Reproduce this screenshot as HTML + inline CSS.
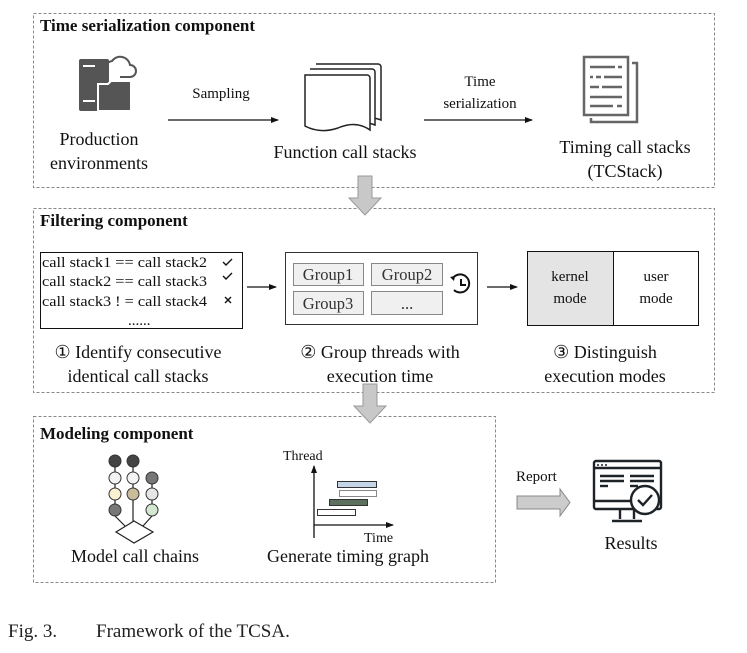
<!DOCTYPE html>
<html><head><meta charset="utf-8"><style>
html,body{margin:0;padding:0;background:#fff;}
svg{display:block;font-family:"Liberation Serif",serif;}
</style></head><body>
<svg width="747" height="653" viewBox="0 0 747 653" xmlns="http://www.w3.org/2000/svg">
<defs>
<marker id="ah" markerWidth="8" markerHeight="8" refX="7" refY="4" orient="auto" markerUnits="userSpaceOnUse"><path d="M0,1 L8,4 L0,7 Z" fill="#111"/></marker>
</defs>
<g fill="none" stroke="#888" stroke-dasharray="3,2" stroke-width="1">
<rect x="33.5" y="13.5" width="681" height="174"/>
<rect x="33.5" y="208.5" width="681" height="184"/>
<rect x="33.5" y="416.5" width="462" height="166"/>
</g>
<path d="M358,176 h14 v22 h9 l-16,17 l-16,-17 h9 z" fill="#c8c8c8" stroke="#999"/>
<path d="M363,384 h14 v22 h9 l-16,17 l-16,-17 h9 z" fill="#c8c8c8" stroke="#999"/>
<g font-weight="bold" font-size="17" fill="#111">
<text x="40" y="31">Time serialization component</text>
<text x="40" y="226">Filtering component</text>
<text x="40" y="439">Modeling component</text>
</g>
<g fill="#555">
<rect x="79" y="59" width="30" height="52" rx="2"/>
<path d="M98,84 h10 l3,-3 h20 v30 h-33 z" fill="#555" stroke="#fff" stroke-width="2"/>
<path d="M108,75 a8,8 0 0 1 4,-14 a10,10 0 0 1 18,4 a6,6 0 0 1 0,12 h-10" fill="none" stroke="#555" stroke-width="2"/>
<rect x="83" y="65" width="12" height="2" fill="#fff"/>
<rect x="83" y="100" width="12" height="2" fill="#fff"/>
</g>
<g font-size="18" fill="#111" text-anchor="middle">
<text x="99" y="145">Production</text>
<text x="99" y="169">environments</text>
<text x="345" y="158">Function call stacks</text>
<text x="625" y="153">Timing call stacks</text>
<text x="625" y="177">(TCStack)</text>
</g>
<g font-size="15" fill="#111" text-anchor="middle">
<text x="221" y="98">Sampling</text>
<text x="480" y="86">Time</text>
<text x="480" y="108">serialization</text>
</g>
<line x1="168" y1="120" x2="278" y2="120" stroke="#111" stroke-width="1.3" marker-end="url(#ah)"/>
<line x1="424" y1="120" x2="532" y2="120" stroke="#111" stroke-width="1.3" marker-end="url(#ah)"/>
<g fill="#fff" stroke="#222" stroke-width="1.5">
<path d="M316,64 h62 a3,3 0 0 1 3,3 v53 q-10,-4 -20,0"/>
<path d="M310,69 h62 a3,3 0 0 1 3,3 v53 q-10,-4 -20,0"/>
<path d="M305,75 h62 a3,3 0 0 1 3,3 v52 q-14,-10 -32,-2 q-18,6 -33,-2 z"/>
</g>
<!-- doc icon -->
<g stroke="#666" stroke-width="2.5" fill="none">
<path d="M632,63 h5 v59 h-46 v-4"/>
<rect x="584" y="57" width="44" height="58" fill="#fff"/>
</g>
<g stroke="#666" stroke-width="2.5">
<line x1="590" y1="67" x2="615" y2="67"/><line x1="618" y1="67" x2="622" y2="67"/>
<line x1="590" y1="77" x2="593" y2="77"/><line x1="596" y1="77" x2="601" y2="77"/><line x1="604" y1="77" x2="622" y2="77"/>
<line x1="590" y1="87" x2="599" y2="87"/><line x1="602" y1="87" x2="622" y2="87"/>
<line x1="590" y1="97" x2="622" y2="97"/>
<line x1="590" y1="106" x2="613" y2="106"/><line x1="617" y1="106" x2="622" y2="106"/>
</g>
<!-- Box2 -->
<rect x="40.5" y="252.5" width="202" height="76" fill="#fff" stroke="#111"/>
<g font-size="15" fill="#111">
<text x="42" y="267" textLength="165" lengthAdjust="spacingAndGlyphs">call stack1 == call stack2</text>
<text x="42" y="286" textLength="165" lengthAdjust="spacingAndGlyphs">call stack2 == call stack3</text>
<text x="42" y="306" textLength="165" lengthAdjust="spacingAndGlyphs">call stack3 ! = call stack4</text>
<text x="128" y="325">......</text>
</g>
<g stroke="#111" stroke-width="1.4" fill="none">
<path d="M223,262 l3,3 l6,-6"/><path d="M223,276 l3,3 l6,-6"/>
<path d="M225,297 l6,6 M231,297 l-6,6"/>
</g>
<line x1="247" y1="287" x2="276" y2="287" stroke="#111" stroke-width="1.3" marker-end="url(#ah)"/>
<rect x="285.5" y="252.5" width="192" height="72" fill="#fff" stroke="#333"/>
<g fill="#f0f0f0" stroke="#888">
<rect x="293.5" y="263.5" width="70" height="22"/>
<rect x="371.5" y="263.5" width="71" height="22"/>
<rect x="293.5" y="291.5" width="70" height="23"/>
<rect x="371.5" y="291.5" width="71" height="23"/>
</g>
<g font-size="16.5" fill="#333" text-anchor="middle">
<text x="328" y="280">Group1</text><text x="407" y="280">Group2</text>
<text x="328" y="309">Group3</text><text x="407" y="309">...</text>
</g>
<g stroke="#111" stroke-width="2" fill="none">
<path d="M453,278 a9,9 0 1 1 1,12"/>
<path d="M461,279 v6 h5"/>
</g>
<path d="M450,277 l5,-1 l-1,5 z" fill="#111"/>
<line x1="487" y1="287" x2="517" y2="287" stroke="#111" stroke-width="1.3" marker-end="url(#ah)"/>
<rect x="527.5" y="251.5" width="86" height="74" fill="#e4e4e4" stroke="#111"/>
<rect x="613.5" y="251.5" width="85" height="74" fill="#fff" stroke="#111"/>
<g font-size="15" fill="#111" text-anchor="middle">
<text x="570" y="281">kernel</text><text x="570" y="303">mode</text>
<text x="656" y="281">user</text><text x="656" y="303">mode</text>
</g>
<g font-size="18" fill="#111" text-anchor="middle">
<text x="138" y="358">① Identify consecutive</text>
<text x="138" y="382">identical call stacks</text>
<text x="380" y="358">② Group threads with</text>
<text x="380" y="382">execution time</text>
<text x="605" y="358">③ Distinguish</text>
<text x="605" y="382">execution modes</text>
</g>
<g stroke="#222" stroke-width="1.2">
<line x1="115" y1="461" x2="115" y2="516"/><line x1="133" y1="461" x2="133" y2="521"/><line x1="152" y1="478" x2="152" y2="516"/>
<line x1="115" y1="516" x2="125" y2="526"/><line x1="152" y1="516" x2="143" y2="526"/>
<path d="M134,521 L153,532 L134,543 L116,532 Z" fill="#fff"/>
</g>
<g stroke="#333" stroke-width="1">
<circle cx="115" cy="461" r="6" fill="#444"/><circle cx="133" cy="461" r="6" fill="#444"/>
<circle cx="115" cy="478" r="6" fill="#f3f3f3"/><circle cx="133" cy="478" r="6" fill="#f3f3f3"/><circle cx="152" cy="478" r="6" fill="#777"/>
<circle cx="115" cy="494" r="6" fill="#fbf0cf"/><circle cx="133" cy="494" r="6" fill="#c9bc9a"/><circle cx="152" cy="494" r="6" fill="#e6e6e6"/>
<circle cx="115" cy="510" r="6" fill="#777"/><circle cx="152" cy="510" r="6" fill="#d4e8d0"/>
</g>
<g font-size="18" fill="#111" text-anchor="middle">
<text x="135" y="562">Model call chains</text>
<text x="348" y="562">Generate timing graph</text>
<text x="631" y="549">Results</text>
</g>
<line x1="314" y1="538" x2="314" y2="466" stroke="#111" stroke-width="1.3" marker-end="url(#ah)"/>
<line x1="314" y1="525" x2="393" y2="525" stroke="#111" stroke-width="1.3" marker-end="url(#ah)"/>
<g font-size="14" fill="#111">
<text x="283" y="460">Thread</text><text x="364" y="542">Time</text>
</g>
<rect x="337.5" y="481.5" width="39" height="6" fill="#c5d5e8" stroke="#333"/>
<rect x="339.5" y="490.5" width="37" height="6" fill="#fff" stroke="#888"/>
<rect x="329.5" y="499.5" width="38" height="6" fill="#5d705d" stroke="#333"/>
<rect x="317.5" y="509.5" width="38" height="6" fill="#fff" stroke="#333"/>
<text x="516" y="481" font-size="15" fill="#111">Report</text>
<path d="M517,496 h43 v-7 l10,13.5 l-10,13.5 v-7 h-43 z" fill="#ccc" stroke="#888"/>
<g stroke="#1e2328" stroke-width="2.4" fill="none">
<rect x="594" y="461" width="67" height="48" rx="2"/>
<line x1="594" y1="468" x2="661" y2="468"/>
<line x1="594" y1="501" x2="630" y2="501"/>
<path d="M620,509 v10 M634,509 v10 M612,521 h30"/>
<line x1="600" y1="476" x2="624" y2="476"/><line x1="600" y1="481" x2="624" y2="481"/><line x1="600" y1="486" x2="608" y2="486"/>
<line x1="630" y1="476" x2="654" y2="476"/><line x1="630" y1="481" x2="654" y2="481"/><line x1="630" y1="486" x2="638" y2="486"/>
<circle cx="645" cy="500" r="14" fill="#fff"/>
<path d="M638,500 l5,5 l9,-10"/>
</g>
<g fill="#1e2328"><circle cx="598" cy="465" r="1"/><circle cx="602" cy="465" r="1"/><circle cx="606" cy="465" r="1"/></g>
<text x="8" y="637" font-size="19" fill="#222">Fig. 3.</text>
<text x="96" y="637" font-size="19" fill="#222">Framework of the TCSA.</text>
</svg>
</body></html>
